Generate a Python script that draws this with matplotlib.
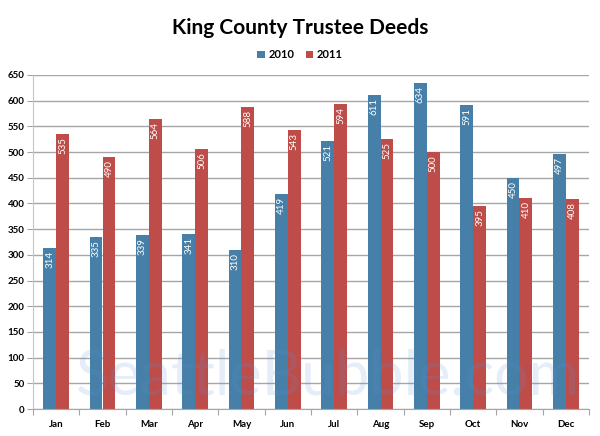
import matplotlib.pyplot as plt
import numpy as np

months = ["Jan", "Feb", "Mar", "Apr", "May", "Jun",
          "Jul", "Aug", "Sep", "Oct", "Nov", "Dec"]
deeds_2010 = [314, 335, 339, 341, 310, 419, 521, 611, 634, 591, 450, 497]
deeds_2011 = [535, 490, 564, 506, 588, 543, 594, 525, 500, 395, 410, 408]

blue = "#4680A8"
red = "#BE4D4A"

plt.rcParams["font.family"] = ["Lato", "DejaVu Sans"]

fig = plt.figure(figsize=(6, 4.36), dpi=100)
ax = fig.add_axes([33 / 600, 1 - 409 / 436, 556 / 600, 334 / 436])

x = np.arange(len(months))
w = 0.28
b1 = ax.bar(x - w / 2, deeds_2010, w, color=blue, label="2010", zorder=2)
b2 = ax.bar(x + w / 2, deeds_2011, w, color=red, label="2011", zorder=2)

# value labels inside top of each bar, rotated
for bars in (b1, b2):
    for rect in bars:
        h = rect.get_height()
        ax.text(rect.get_x() + rect.get_width() / 2, h - 6, str(int(h)),
                rotation=90, ha="center", va="top", color="white",
                fontsize=7, zorder=3)

ax.set_xlim(-0.5, 11.5)
ax.set_ylim(0, 650)
ax.set_yticks(range(0, 651, 50))
ax.yaxis.grid(True, color="#A6A6A6", linewidth=1, zorder=0)
ax.set_axisbelow(True)

ax.set_xticks(np.arange(-0.5, 12, 1), minor=False)
ax.set_xticklabels([])
ax.set_xticks(x, minor=True)
ax.set_xticklabels(months, minor=True, fontsize=7, fontweight="bold")
ax.tick_params(axis="x", which="minor", length=0, pad=8)
ax.tick_params(axis="x", which="major", length=4, color="#A6A6A6")
ax.tick_params(axis="y", length=4, color="#A6A6A6", labelsize=7, pad=2)
for lbl in ax.get_yticklabels():
    lbl.set_fontweight("bold")

for s in ["top", "right"]:
    ax.spines[s].set_visible(False)
ax.spines["left"].set_color("#B9C7D6")
ax.spines["bottom"].set_color("#A6A6A6")

# faint site watermark
ax.text(0.53, 0.01, "SeattleBubble.com", transform=ax.transAxes,
        ha="center", va="bottom", fontsize=44, color="#5A8FD8",
        alpha=0.16, zorder=4, clip_on=True)

fig.text(0.5, 1 - 28 / 436, "King County Trustee Deeds", ha="center",
         va="center", fontsize=15, fontweight="bold")
fig.legend(handles=[b1, b2], loc="center", bbox_to_anchor=(0.5, 1 - 55 / 436),
           ncol=2, frameon=False, handlelength=0.7,
           handleheight=0.7, handletextpad=0.3, columnspacing=1.0,
           prop={"weight": "bold", "size": 8})

fig.savefig("out.png", dpi=100)
